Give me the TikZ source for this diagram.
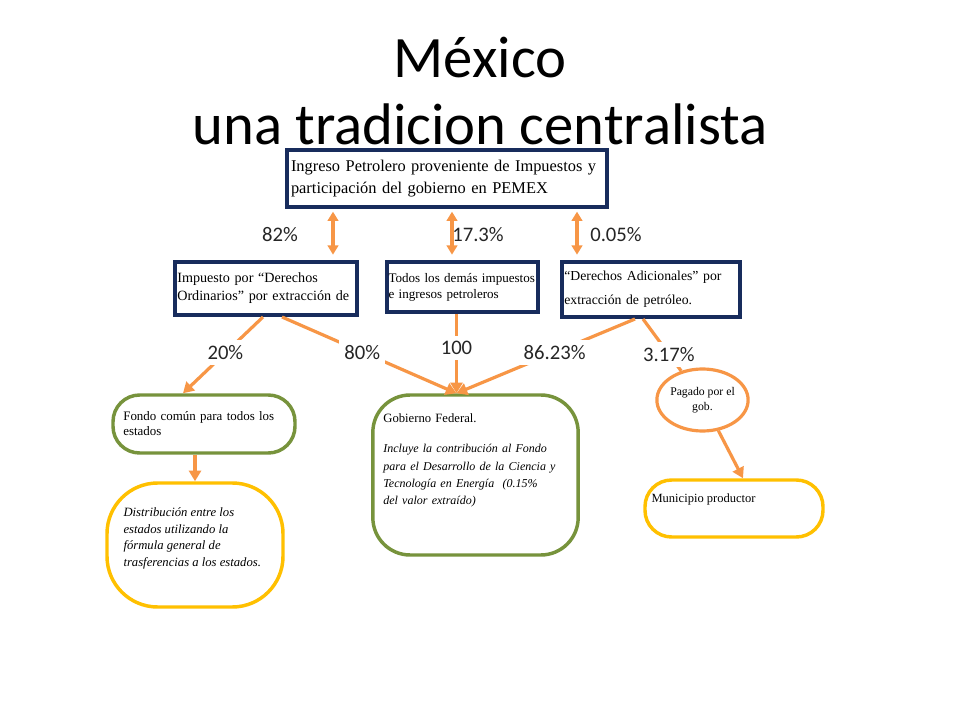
\documentclass[tikz,border=0pt]{standalone}
\usepackage{fontspec}
\setmainfont{Liberation Serif}
\newfontfamily\slidefont{Carlito}
\usetikzlibrary{arrows.meta}
\usetikzlibrary{positioning}
\usetikzlibrary{shapes.geometric}
\definecolor{boxnavy}{RGB}{24,44,92}
\definecolor{flowor}{RGB}{247,150,70}
\definecolor{fundgreen}{RGB}{119,147,60}
\definecolor{stateyel}{RGB}{255,192,0}
\tikzset {
  flow path/.style = {
    draw = flowor,
    line width = 2.4pt
  },
  % path style with a head at the end
  flow/.style = {
    flow path,
    arrows = {-Triangle[length=8pt, width=9pt]}
  },
  % path style with a head at both ends
  flows/.style = {
    flow path,
    arrows = {Triangle[length=7pt, width=8pt]-Triangle[length=7pt, width=8pt]},
    shorten < = 2pt,
    shorten > = 4pt
  },
  % path style with no heads
  nflow/.style = {
    flow path
  }
}
\tikzset {
  box node/.style = {
    align = left,
    inner sep = 1pt
  },
  % revenue source
  rev/.style = {
    box node,
    draw = boxnavy,
    line width = 3pt,
    rectangle
  },
  % fund that receives the money
  fund/.style = {
    box node,
    draw = fundgreen,
    line width = 2.6pt,
    rectangle
  },
  % final destination
  dest/.style = {
    box node,
    draw = stateyel,
    line width = 2.6pt,
    rectangle
  },
  % who pays
  paid/.style = {
    ellipse,
    draw = flowor,
    line width = 2.4pt,
    align = center,
    inner sep = 0
  },
  % text inside a rounded box
  note/.style = {
    align = left,
    inner sep = 0
  },
  % share next to a connector
  pct/.style = {
    font = \slidefont\fontsize{15.5}{18}\selectfont,
    text = black!85,
    inner sep = 4pt
  },
  % share that cuts a connector
  cut pct/.style = {
    pct,
    fill = white
  },
  title/.style = {
    font = \slidefont\fontsize{44}{50}\selectfont,
    align = center
  }
}
\begin{document}
\begin{tikzpicture}[x = 0.75pt, y = -0.75pt]
    \fill[white] (0, 0) rectangle (960, 720);
    \useasboundingbox (0, 0) rectangle (960, 720);

    \node[title] at (480, 91) (title) {México\\una tradicion centralista};

    \node[rev, minimum width = 240pt, minimum height = 42.75pt, text width = 234pt,
      font = \fontsize{12.3}{17}\selectfont] at (447, 178.5) (income)
      {Ingreso Petrolero proveniente de Impuestos y\\participación del gobierno en PEMEX};
    \node[rev, minimum width = 136.5pt, minimum height = 39.75pt, text width = 133pt,
      font = \fontsize{10.6}{13.5}\selectfont] at (266, 288.5) (ordinary)
      {Impuesto por “Derechos\\Ordinarios” por extracción de};
    \node[rev, minimum width = 113pt, minimum height = 37.5pt, text width = 111pt,
      font = \fontsize{9.8}{12}\selectfont] at (462.5, 287) (other)
      {Todos los demás impuestos\\e ingresos petroleros};
    \node[rev, minimum width = 133.5pt, minimum height = 41.25pt, text width = 130pt,
      font = \fontsize{10.3}{18}\selectfont] at (651, 289.5) (extra)
      {“Derechos Adicionales” por\\extracción de petróleo.};

    \node[fund, rounded corners = 20pt, minimum width = 136.5pt, minimum height = 43.5pt,
      text width = 121pt, font = \fontsize{9.7}{11.25}\selectfont] at (204, 424) (common)
      {Fondo común para todos los\\estados};
    \node[dest, rounded corners = 38pt, minimum width = 132pt, minimum height = 93pt]
      at (195, 545) (spread) {};
    \node[note, anchor = north west, font = \itshape\fontsize{9.5}{12.5}\selectfont]
      at ([xshift = 13.5pt, yshift = -19.5pt]spread.north west) (spread-text)
      {Distribución entre los\\estados utilizando la\\fórmula general de\\trasferencias a los estados.};

    \node[fund, rounded corners = 28pt, minimum width = 154pt, minimum height = 120pt]
      at (475.5, 475) (federal) {};
    \node[note, anchor = north west, text width = 140pt, font = \fontsize{9.5}{13}\selectfont]
      at ([xshift = 9pt, yshift = -15pt]federal.north west) (federal-text)
      {Gobierno Federal.\\[10pt]\itshape\fontsize{9}{13}\selectfont
      Incluye la contribución al Fondo\\para el Desarrollo de la Ciencia y\\Tecnología en Energía \ (0.15\%\\del valor extraído)};

    \node[paid, minimum width = 56pt, minimum height = 46.5pt,
      font = \fontsize{8.8}{11.25}\selectfont] at (702.5, 400) (payer) {Pagado por el\\gob.};
    \node[dest, rounded corners = 20pt, minimum width = 133.5pt, minimum height = 42.75pt]
      at (734, 508.5) (town) {};
    \node[note, anchor = north west, font = \fontsize{9.4}{11}\selectfont]
      at ([xshift = 6pt, yshift = -11.5pt]town.north west) (town-text) {Municipio productor};

    \coordinate (ord-top) at ([xshift = -85.5pt]income.south);
    \coordinate (oth-top) at ([xshift = 3.75pt]income.south);
    \coordinate (ext-top) at ([xshift = 97.5pt]income.south);
    \coordinate (gob-in) at ([xshift = -14.25pt]federal.north);
    \coordinate (common-out) at ([xshift = -6.75pt]common.south);

    \draw[flows] (ord-top)
    -- node[pct, midway, xshift = -39.75pt] {82\%} (ord-top |- ordinary.north);
    \draw[flows] (oth-top)
    -- node[pct, midway, xshift = 19.5pt] {17.3\%} (oth-top |- other.north);
    \draw[flows] (ext-top)
    -- node[pct, midway, xshift = 29.25pt] {0.05\%} (ext-top |- extra.north);

    \draw[flow] ([xshift = -2.25pt]ordinary.south)
    -- node[cut pct, pos = 0.47] {20\%} ([xshift = -15.75pt]common.north);
    \draw[flow] ([xshift = 12pt]ordinary.south)
    -- node[cut pct, pos = 0.46] {80\%} (gob-in);
    \draw[flow] ([xshift = -4.5pt]other.south)
    -- node[cut pct, pos = 0.43] {100} (gob-in);
    \draw[flow] ([xshift = -12pt]extra.south)
    -- node[cut pct, pos = 0.45] {86.23\%} (gob-in);
    \draw[nflow] ([xshift = -6pt]extra.south)
    -- node[cut pct, pos = 0.68] {3.17\%} (payer);

    \draw[flow] (common-out)
    -- (common-out |- spread.north);
    \draw[flow] (payer)
    -- ([xshift = 6.75pt]town.north);
\end{tikzpicture}
\end{document}
